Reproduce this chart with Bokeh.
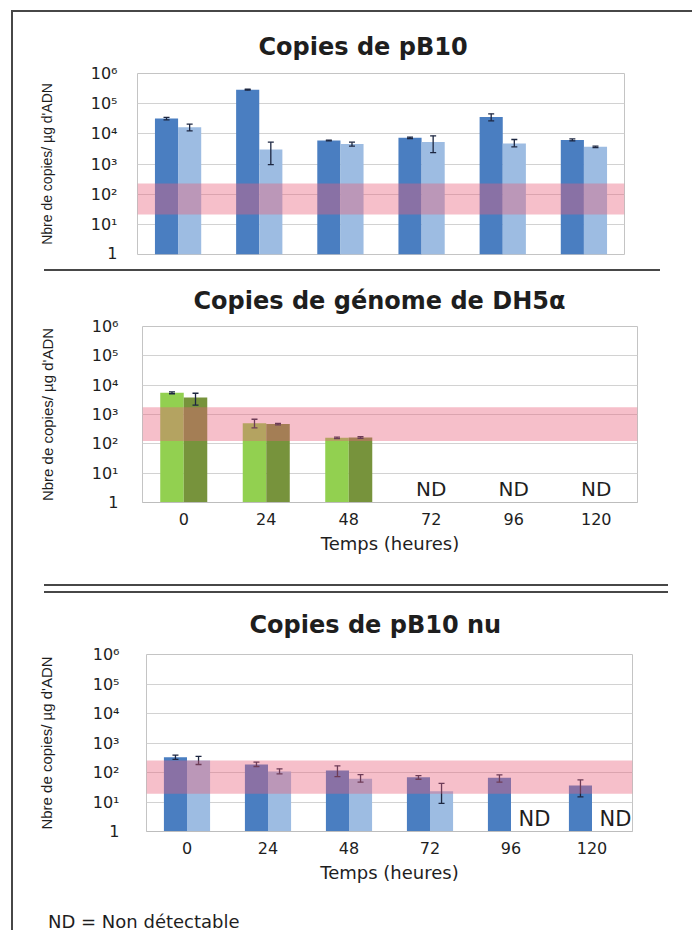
from bokeh.plotting import figure
from bokeh.models import (ColumnDataSource, Range1d, FactorRange, FixedTicker,
                          Whisker, BoxAnnotation, Div, TeeHead)
from bokeh.transform import dodge
from bokeh.layouts import column
from bokeh.embed import file_html
from bokeh.resources import INLINE
from bokeh.core.properties import value

# ---------------- data ----------------
hours = ["0", "24", "48", "72", "96", "120"]
decades = [1, 10, 100, 1000, 10000, 100000, 1000000]
decade_labels = ["1", "10¹", "10²", "10³", "10⁴", "10⁵", "10⁶"]

# Copies de pB10
pb10_s1 = [3.2e4, 2.9e5, 6.0e3, 7.4e3, 3.6e4, 6.3e3]
pb10_s1_low = [2.9e4, 2.8e5, 5.8e3, 7.0e3, 2.7e4, 5.8e3]
pb10_s1_high = [3.5e4, 3.0e5, 6.2e3, 7.8e3, 4.6e4, 6.8e3]
pb10_s2 = [1.65e4, 3.0e3, 4.6e3, 5.4e3, 4.8e3, 3.7e3]
pb10_s2_low = [1.25e4, 9.6e2, 3.9e3, 2.4e3, 3.7e3, 3.5e3]
pb10_s2_high = [2.1e4, 5.3e3, 5.3e3, 8.6e3, 6.5e3, 3.9e3]
pb10_band = [21, 225]

# Copies de génome de DH5α
dh5a_s1 = [5.5e3, 500, 160, None, None, None]
dh5a_s1_low = [5.1e3, 350, 150, None, None, None]
dh5a_s1_high = [5.9e3, 690, 170, None, None, None]
dh5a_s2 = [3.8e3, 470, 165, None, None, None]
dh5a_s2_low = [2.1e3, 440, 155, None, None, None]
dh5a_s2_high = [5.3e3, 500, 175, None, None, None]
dh5a_band = [125, 1750]

# Copies de pB10 nu
nu_s1 = [330, 187, 117, 69, 66, 36]
nu_s1_low = [280, 160, 73, 59, 47, 15]
nu_s1_high = [390, 225, 168, 78, 83, 56]
nu_s2 = [255, 108, 61, 23, None, None]
nu_s2_low = [187, 90, 47, 9, None, None]
nu_s2_high = [350, 133, 85, 43, None, None]
nu_band = [19, 256]

# ---------------- style ----------------
FONT = "DejaVu Sans"
TXT = "#1e1e1e"
BLUE_D, BLUE_L = "#4a7ec1", "#9dbce2"
GREEN_L, GREEN_D = "#92d050", "#77933c"
BAND = "#e8607a"
LINE = "#474747"
BAR_W = 0.285
OFF = 0.1425
FIG_W = 679


def make_panel(title, title_offset, title_standoff, s1, s1_lo, s1_hi, s2,
               s2_lo, s2_hi, band, c1, c2, height, btop, bleft, bright,
               bbottom, ylab_size, show_x, lab_standoff, ylab_standoff,
               nd_off, nd_yoff):
    p = figure(width=FIG_W, height=height, x_range=FactorRange(*hours),
               y_range=Range1d(1, 1e6), y_axis_type="log",
               output_backend="svg", toolbar_location=None,
               min_border_top=btop, min_border_left=bleft,
               min_border_right=bright, min_border_bottom=bbottom)
    p.frame_align = False
    p.background_fill_color = "white"
    p.border_fill_color = "white"
    p.outline_line_color = "#c4c4c4"
    p.outline_line_width = 1

    p.title.text = title
    p.title.align = "left"
    p.title.offset = title_offset
    p.title.standoff = title_standoff
    p.title.text_font = FONT
    p.title.text_font_style = "bold"
    p.title.text_font_size = "24px"
    p.title.text_color = TXT

    for vals, lo, hi, col, off in [(s1, s1_lo, s1_hi, c1, -OFF),
                                   (s2, s2_lo, s2_hi, c2, OFF)]:
        idx = [i for i, v in enumerate(vals) if v is not None]
        src = ColumnDataSource(dict(t=[hours[i] for i in idx],
                                    v=[vals[i] for i in idx],
                                    lo=[lo[i] for i in idx],
                                    hi=[hi[i] for i in idx]))
        p.vbar(x=dodge("t", off, range=p.x_range), top="v", bottom=1,
               width=BAR_W, source=src, fill_color=col, line_color=None)
        w = Whisker(base=dodge("t", off, range=p.x_range), lower="lo",
                    upper="hi", source=src, line_color="#1c2640",
                    line_width=1.3, level="annotation")
        w.upper_head = TeeHead(size=6, line_color="#1c2640", line_width=1.3)
        w.lower_head = TeeHead(size=6, line_color="#1c2640", line_width=1.3)
        p.add_layout(w)

    # non detected values
    both = [h for h, a, b in zip(hours, s1, s2) if a is None and b is None]
    only2 = [h for h, a, b in zip(hours, s1, s2) if a is not None and b is None]
    if both:
        p.text(x="t", y=1, text=value("ND"),
               source=ColumnDataSource(dict(t=both)),
               text_font=value(FONT), text_font_size="20px", text_color=TXT,
               text_align="center", text_baseline="alphabetic",
               y_offset=nd_yoff)
    if only2:
        p.text(x=dodge("t", nd_off, range=p.x_range), y=1, text=value("ND"),
               source=ColumnDataSource(dict(t=only2)),
               text_font=value(FONT), text_font_size="21px", text_color=TXT,
               text_align="center", text_baseline="alphabetic",
               y_offset=nd_yoff)

    p.add_layout(BoxAnnotation(bottom=band[0], top=band[1],
                               fill_color=BAND, fill_alpha=0.4,
                               line_color=None, level="overlay"))

    p.ygrid.ticker = FixedTicker(ticks=decades, minor_ticks=[])
    p.ygrid.grid_line_color = "#d2d2d2"
    p.xgrid.grid_line_color = None

    ax = p.yaxis[0]
    ax.ticker = FixedTicker(ticks=decades, minor_ticks=[])
    ax.major_label_overrides = {d: l for d, l in zip(decades, decade_labels)}
    ax.axis_line_color = None
    ax.major_tick_line_color = None
    ax.minor_tick_line_color = None
    ax.major_label_standoff = lab_standoff
    ax.major_label_text_font = FONT
    ax.major_label_text_font_size = "16px"
    ax.major_label_text_color = TXT
    ax.axis_label = "Nbre de copies/ µg d'ADN"
    ax.axis_label_text_font = "Liberation Sans"
    ax.axis_label_text_font_size = ylab_size
    ax.axis_label_text_font_style = "normal"
    ax.axis_label_text_color = TXT
    ax.axis_label_standoff = ylab_standoff

    xa = p.xaxis[0]
    if show_x:
        xa.axis_line_color = "#bdbdbd"
        xa.major_tick_line_color = None
        xa.major_label_standoff = 4
        xa.major_label_text_font = FONT
        xa.major_label_text_font_size = "16px"
        xa.major_label_text_color = TXT
        xa.axis_label = "Temps (heures)"
        xa.axis_label_text_font = FONT
        xa.axis_label_text_font_size = "18px"
        xa.axis_label_text_font_style = "normal"
        xa.axis_label_text_color = TXT
        xa.axis_label_standoff = 5
    else:
        xa.visible = False
    return p


def rule(width, mtop, mbottom):
    return Div(text="", width=width, height=2, margin=(mtop, 0, mbottom, 31),
               styles={"background-color": LINE})


p1 = make_panel("Copies de pB10", 121, 25, pb10_s1, pb10_s1_low, pb10_s1_high,
                pb10_s2, pb10_s2_low, pb10_s2_high, pb10_band, BLUE_D, BLUE_L,
                250, 61, 124, 68, 8, "14px", False, 14, 33, 0.29, -6)
p2 = make_panel("Copies de génome de DH5α", 51, 24, dh5a_s1, dh5a_s1_low,
                dh5a_s1_high, dh5a_s2, dh5a_s2_low, dh5a_s2_high, dh5a_band,
                GREEN_L, GREEN_D, 284, 54, 129, 55, 53, "15px", True, 18, 33,
                0.29, -14)
p3 = make_panel("Copies de pB10 nu", 103, 31, nu_s1, nu_s1_low, nu_s1_high,
                nu_s2, nu_s2_low, nu_s2_high, nu_band, BLUE_D, BLUE_L,
                297, 61, 133, 60, 59, "15px", True, 21, 35, 0.29, -13)

sep1 = rule(616, 7, 1)
sep2a = rule(624, 28, 0)
sep2b = rule(624, 5, 0)
footer = Div(text=f'<div style="padding:21px 0 0 35px;font-family:\'{FONT}\';'
                  f'font-size:18px;color:{TXT};line-height:1.2">'
                  'ND = Non détectable</div>', width=FIG_W, height=40, margin=0)

layout = column(p1, sep1, p2, sep2a, sep2b, p3, footer, spacing=0,
                margin=(10, 0, 0, 11),
                styles={"border-left": f"2px solid {LINE}",
                        "border-top": f"2px solid {LINE}"})

open("out.html", "w").write(file_html(layout, INLINE))
